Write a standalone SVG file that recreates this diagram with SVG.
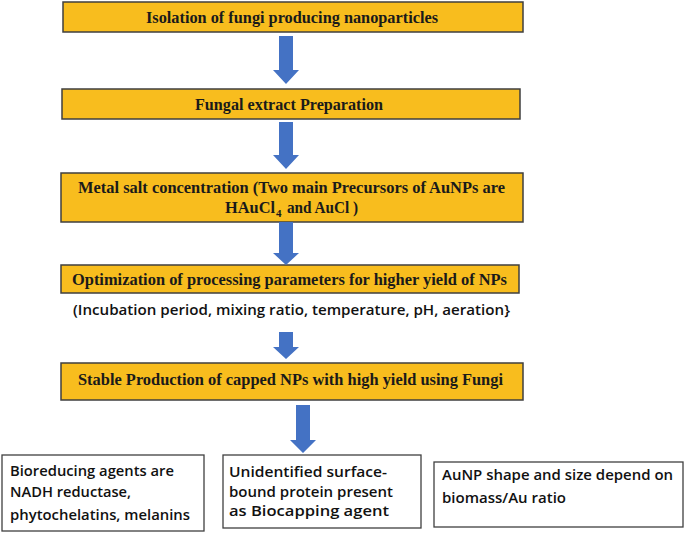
<svg xmlns="http://www.w3.org/2000/svg" width="685" height="534" viewBox="0 0 685 534">
<style>
.step{fill:#F8BD1E;stroke:#3F3F3F;stroke-width:1.5}
.st{font-family:"Liberation Serif",serif;font-weight:bold;font-size:17px;fill:#1a1a1a}
.sub{font-family:"Liberation Serif",serif;font-weight:bold;font-size:11px;fill:#1a1a1a}
.note{fill:#fff;stroke:#404040;stroke-width:1.3}
.nt{font-family:"Open Sans","Liberation Sans",sans-serif;font-weight:600;font-size:15px;fill:#111}
.arr{fill:#4472C4}
</style>
<rect width="685" height="534" fill="#fff"/>
<g id="step1"><rect class="step" x="63" y="2" width="460" height="30"/><text class="st" x="146" y="23" textLength="292" lengthAdjust="spacingAndGlyphs">Isolation  of fungi  producing  nanoparticles</text></g>
<g id="step2"><rect class="step" x="62" y="89" width="458" height="30"/><text class="st" x="195" y="110" textLength="188" lengthAdjust="spacingAndGlyphs">Fungal extract  Preparation</text></g>
<g id="step3"><rect class="step" x="61" y="173" width="462" height="49"/><text class="st" x="78" y="193" textLength="427" lengthAdjust="spacingAndGlyphs">Metal salt concentration  (Two  main  Precursors  of AuNPs  are</text><text class="st" x="225" y="213" textLength="50" lengthAdjust="spacingAndGlyphs">HAuCl</text><text class="sub" x="276" y="217">4</text><text class="st" x="287" y="213" textLength="71" lengthAdjust="spacingAndGlyphs">and  AuCl  )</text></g>
<g id="step4"><rect class="step" x="61" y="265" width="458" height="28"/><text class="st" x="72" y="285" textLength="435" lengthAdjust="spacingAndGlyphs">Optimization  of processing  parameters  for  higher  yield  of NPs</text></g>
<g id="params"><text class="nt" x="73" y="315" textLength="437" lengthAdjust="spacingAndGlyphs">(Incubation  period,  mixing ratio,  temperature,  pH,  aeration}</text></g>
<g id="step5"><rect class="step" x="61" y="363" width="462" height="37"/><text class="st" x="78" y="385" textLength="425" lengthAdjust="spacingAndGlyphs">Stable  Production  of capped  NPs with  high  yield  using  Fungi</text></g>
<g id="noteA"><rect class="note" x="2" y="455" width="202" height="76"/><text class="nt" x="10" y="476" textLength="164" lengthAdjust="spacingAndGlyphs">Bioreducing agents are</text><text class="nt" x="10" y="497" textLength="121" lengthAdjust="spacingAndGlyphs">NADH reductase,</text><text class="nt" x="10" y="520" textLength="180" lengthAdjust="spacingAndGlyphs">phytochelatins,  melanins</text></g>
<g id="noteB"><rect class="note" x="223" y="455" width="198" height="73"/><text class="nt" x="229" y="477" textLength="158" lengthAdjust="spacingAndGlyphs">Unidentified surface-</text><text class="nt" x="229" y="497" textLength="164" lengthAdjust="spacingAndGlyphs">bound protein present</text><text class="nt" x="229" y="516" textLength="160" lengthAdjust="spacingAndGlyphs">as Biocapping agent</text></g>
<g id="noteC"><rect class="note" x="434" y="462" width="249" height="65"/><text class="nt" x="442" y="480" textLength="231" lengthAdjust="spacingAndGlyphs">AuNP shape and size depend on</text><text class="nt" x="442" y="503" textLength="124" lengthAdjust="spacingAndGlyphs">biomass/Au  ratio</text></g>
<g id="connectors">
<polygon class="arr" points="279,36 293,36 293,70 299,70 286,84 273,70 279,70"/>
<polygon class="arr" points="279,122 293,122 293,155 299,155 286,169 273,155 279,155"/>
<polygon class="arr" points="279,222 293,222 293,253 299,253 286,265 273,253 279,253"/>
<polygon class="arr" points="279,332 293,332 293,347 299,347 286,359 273,347 279,347"/>
<polygon class="arr" points="296,405 310,405 310,440 316,440 303,453 290,440 296,440"/>
</g>
</svg>
